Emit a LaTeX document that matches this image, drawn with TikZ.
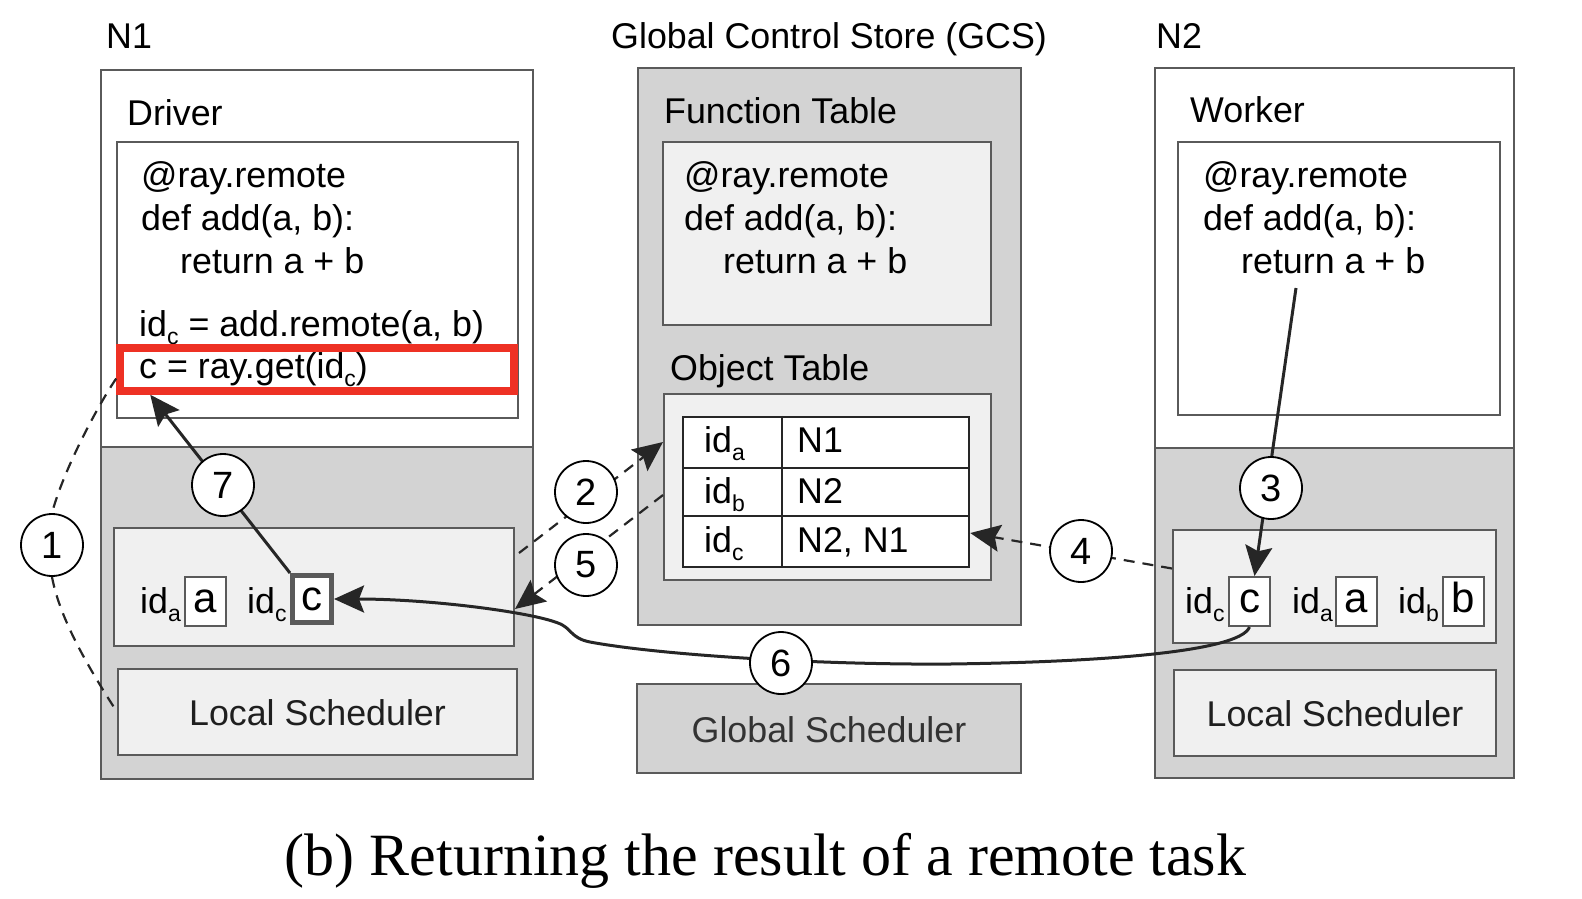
\documentclass[tikz,border=0pt]{standalone}
\usepackage{fontspec}
\setmainfont{Liberation Sans}
\newfontfamily\capfont{Liberation Serif}
\usetikzlibrary{arrows.meta,fit}
\definecolor{gfill}{HTML}{D3D3D3}
\definecolor{lfill}{HTML}{F0F0F0}
\definecolor{bord}{HTML}{5A5A5A}
\definecolor{ink}{HTML}{262626}
\definecolor{redb}{HTML}{EE3124}
\newcommand{\dn}[1]{\raisebox{-8pt}{\fontsize{23}{23}\selectfont #1}}
\pgfdeclarelayer{front}
\pgfsetlayers{main,front}
\begin{document}
\begin{tikzpicture}[x=1pt,y=-1pt,
  box/.style={draw=bord,line width=2pt,inner sep=0pt},
  txt/.style={inner sep=0pt,anchor=base west,font=\fontsize{35.8}{42}\selectfont,text=black},
  ctxt/.style={inner sep=0pt,anchor=base,font=\fontsize{35.8}{42}\selectfont,text=black!88},
  sbox/.style={draw=bord,line width=2pt,fill=white,minimum width=41pt,minimum height=49pt,inner sep=0pt,text height=22pt,text depth=0pt,font=\fontsize{42}{42}\selectfont},
  cbox/.style={sbox,line width=5pt,minimum width=39pt,minimum height=47pt},
  num/.style={circle,draw=black,fill=white,line width=1.8pt,minimum size=62pt,inner sep=0pt,font=\fontsize{38}{38}\selectfont},
  arr/.style={draw=ink,line width=3pt,-{Stealth[length=30pt,width=27pt,inset=5pt]}},
  darr/.style={draw=ink,line width=2.2pt,dash pattern=on 11pt off 8pt,-{Stealth[length=30pt,width=27pt,inset=5pt]}},
  dline/.style={draw=ink,line width=2.2pt,dash pattern=on 11pt off 8pt},
  tabl/.style={draw=black!85,line width=2.5pt}
]
\useasboundingbox (0,0) rectangle (1582,898);

% ---------------- N1 ----------------
\fill[gfill] (101,447) rectangle (533,779);
\node[box,fit={(101,70)(533,779)}] (n1) {};
\draw[box] (n1.west |- 0,447) -- (n1.east |- 0,447);
\node[txt] (n1lab) at (106,48) {N1};
\node[txt] (drvlab) at (127,125) {Driver};
\node[box,fill=white,fit={(117,142)(518,418)}] (drvcode) {};
\node[txt] (d1) at (141,187) {@ray.remote};
\node[txt] (d2) at (141,230) {def add(a, b):};
\node[txt] (d3) at (180,273) {return a + b};
\node[txt] (d4) at (139,336) {id\dn{c} = add.remote(a, b)};
\node[draw=redb,line width=7.5pt,inner sep=0pt,fit={(120,348)(514,391)}] (red) {};
\node[txt] (d5) at (139,378) {c = ray.get(id\dn{c})};
\node[box,fill=lfill,fit={(114,528)(514,646)}] (st1) {};
\node[txt] (ida1) at (140,613) {id\dn{a}};
\node[sbox] (a1) at (205.5,601.5) {a};
\node[txt] (idc1) at (247,613) {id\dn{c}};
\node[cbox] (c1) at (312,599) {c};
\node[box,fill=lfill,fit={(118,669)(517,755)}] (ls1) {};
\node[ctxt] (ls1t) at (317.5,725) {Local Scheduler};

% ---------------- GCS ----------------
\node[box,fill=gfill,fit={(638,68)(1021,625)}] (gcs) {};
\node[txt] (gcslab) at (611,48) {Global Control Store (GCS)};
\node[txt] (ftlab) at (664,123) {Function Table};
\node[box,fill=lfill,fit={(663,142)(991,325)}] (ft) {};
\node[txt] (f1) at (684,187) {@ray.remote};
\node[txt] (f2) at (684,230) {def add(a, b):};
\node[txt] (f3) at (723,273) {return a + b};
\node[txt] (otlab) at (670,380) {Object Table};
\node[box,fill=lfill,fit={(664,394)(991,580)}] (ot) {};
\node[tabl,fill=white,inner sep=0pt,fit={(683,417)(969,567)}] (tab) {};
\draw[tabl] (tab.west |- 0,468) -- (tab.east |- 0,468);
\draw[tabl] (tab.west |- 0,516) -- (tab.east |- 0,516);
\draw[tabl] (tab.north -| 782,0) -- (tab.south -| 782,0);
\node[txt] (t1a) at (704,452) {id\dn{a}};
\node[txt] (t1b) at (797,452) {N1};
\node[txt] (t2a) at (704,503) {id\dn{b}};
\node[txt] (t2b) at (797,503) {N2};
\node[txt] (t3a) at (704,552) {id\dn{c}};
\node[txt] (t3b) at (797,552) {N2, N1};
\node[box,fill=gfill,fit={(637,684)(1021,773)}] (gs) {};
\node[ctxt,text=black!80] (gst) at (829,742) {Global Scheduler};

% ---------------- N2 ----------------
\fill[gfill] (1155,448) rectangle (1514,778);
\node[box,fit={(1155,68)(1514,778)}] (n2) {};
\draw[box] (n2.west |- 0,448) -- (n2.east |- 0,448);
\node[txt] (n2lab) at (1156,48) {N2};
\node[txt] (wklab) at (1190,122) {Worker};
\node[box,fill=white,fit={(1178,142)(1500,415)}] (wk) {};
\node[txt] (w1) at (1203,187) {@ray.remote};
\node[txt] (w2) at (1203,230) {def add(a, b):};
\node[txt] (w3) at (1241,273) {return a + b};
\coordinate (ret) at (1296,288);
\node[box,fill=lfill,fit={(1173,530)(1496,643)}] (st2) {};
\node[txt] (idc2) at (1185,613) {id\dn{c}};
\node[sbox] (c2) at (1249.5,601.5) {c};
\node[txt] (ida2) at (1292,613) {id\dn{a}};
\node[sbox] (a2) at (1356.5,601.5) {a};
\node[txt] (idb2) at (1398,613) {id\dn{b}};
\node[sbox] (b2) at (1463,601.5) {b};
\node[box,fill=lfill,fit={(1174,670)(1496,756)}] (ls2) {};
\node[ctxt] (ls2t) at (1335,726) {Local Scheduler};

% ---------------- numbered steps (drawn on top) ----------------
\begin{pgfonlayer}{front}
\node[num] (k1) at (52,545) {1};
\node[num] (k2) at (586,492) {2};
\node[num] (k3) at (1271,488) {3};
\node[num] (k4) at (1081,551) {4};
\node[num] (k5) at (586,565) {5};
\node[num] (k6) at (781,663) {6};
\node[num] (k7) at (223,485) {7};
\end{pgfonlayer}

% ---------------- connectors ----------------
% 1
\draw[dline] ([yshift=-9pt]red.west) .. controls (100,402) and (64,468) .. (k1.north);
\draw[dline] (k1.south) .. controls (60,620) and (90,670) .. (ls1.west);
% 2 and 5
\draw[darr] ([xshift=4pt,yshift=34pt]st1.east) -- ([yshift=45pt]ot.west);
\draw[darr] ([yshift=-8pt]ot.west) -- ([yshift=-22pt]st1.east);
% 4
\draw[darr] ([yshift=18pt]st2.west) -- ([yshift=-41pt]tab.east);
% 3
\draw[arr] (ret) -- ([xshift=5pt]c2.north);
% 7
\draw[arr] (c1.north west) -- ([xshift=34pt]red.south west);
% 6
\draw[arr] (c2.south) .. controls (1240,652) and (1100,662) .. (950,664)
  .. controls (820,665) and (660,655) .. (590,642)
  .. controls (570,638) and (572,628) .. (558,623)
  .. controls (530,612) and (430,599) .. (c1.east);

% caption
\node[inner sep=0pt,anchor=base,font=\capfont\fontsize{60}{60}\selectfont] (cap) at (765.5,875) {(b) Returning the result of a remote task};
\end{tikzpicture}
\end{document}
